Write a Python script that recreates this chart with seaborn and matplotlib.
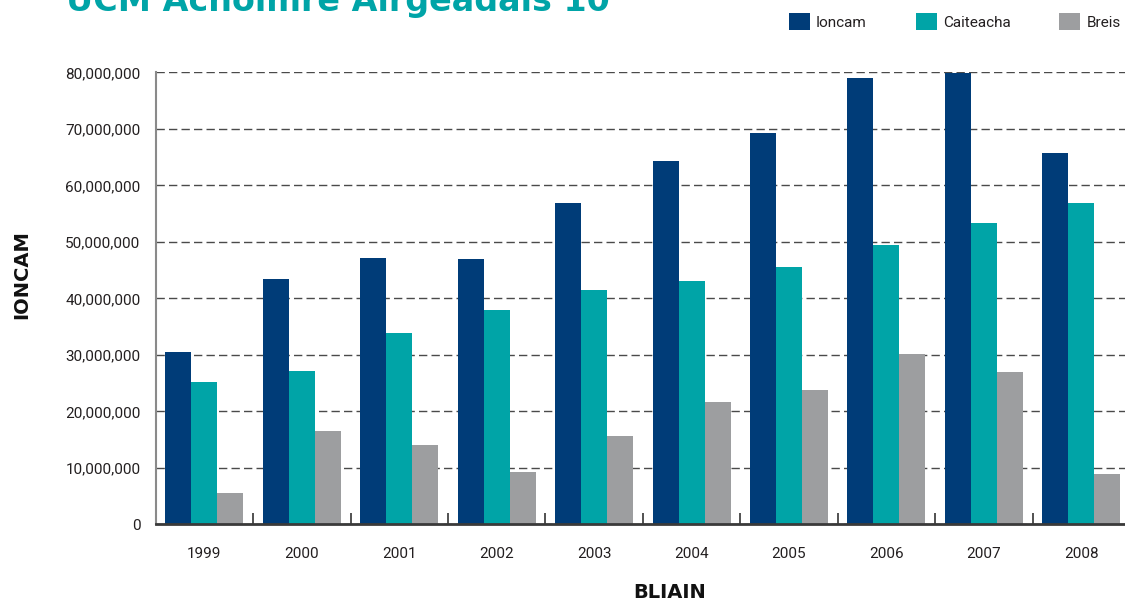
import numpy as np
import pandas as pd
import matplotlib
matplotlib.use("Agg")
import matplotlib.pyplot as plt
from matplotlib.ticker import FuncFormatter
import seaborn as sns

# ---- data ----
years = ["1999", "2000", "2001", "2002", "2003", "2004", "2005", "2006", "2007", "2008"]
ioncam = [30_500_000, 43_400_000, 47_100_000, 47_000_000, 56_900_000,
          64_300_000, 69_300_000, 79_000_000, 79_900_000, 65_700_000]
caiteacha = [25_200_000, 27_100_000, 33_900_000, 37_900_000, 41_500_000,
             43_100_000, 45_500_000, 49_400_000, 53_300_000, 56_900_000]
breis = [5_500_000, 16_500_000, 14_000_000, 9_300_000, 15_600_000,
         21_700_000, 23_800_000, 30_100_000, 27_000_000, 8_900_000]
series_names = ["Ioncam", "Caiteacha", "Breis"]
colors = ["#003c78", "#00a4a7", "#9d9ea0"]
title = "UCM Achoimre Airgeadais 10"
xlabel = "BLIAIN"
ylabel = "IONCAM"

df = pd.DataFrame({
    "year": years * 3,
    "value": ioncam + caiteacha + breis,
    "series": [series_names[0]] * len(years) + [series_names[1]] * len(years) + [series_names[2]] * len(years),
})

sns.set_theme(style="white")
plt.rcParams["font.family"] = ["Roboto", "DejaVu Sans"]

W, H = 1125, 604
fig = plt.figure(figsize=(W / 100, H / 100), dpi=100)
ax_left, ax_right = 155.7, 1130.0
ax_top, ax_bot = 72.3, 524.3
ax = fig.add_axes([ax_left / W, (H - ax_bot) / H, (ax_right - ax_left) / W, (ax_bot - ax_top) / H])

sns.barplot(data=df, x="year", y="value", hue="series", hue_order=series_names,
            palette=colors, saturation=1, width=0.8, linewidth=0, ax=ax)

ax.set_xlim(-0.5, len(years) - 0.5)
ax.set_ylim(0, 80_000_000)
ax.set_yticks(np.arange(0, 80_000_001, 10_000_000))
ax.yaxis.set_major_formatter(FuncFormatter(lambda v, p: f"{v:,.0f}"))

ax.set_axisbelow(True)
ax.yaxis.grid(True, linestyle=(0, (6, 3)), color="#4a4a4a", linewidth=1.0)
ax.xaxis.grid(False)

for s in ["top", "right"]:
    ax.spines[s].set_visible(False)
ax.spines["left"].set_color("#8a8a8a")
ax.spines["left"].set_linewidth(1.5)
ax.spines["bottom"].set_color("#3a3a3a")
ax.spines["bottom"].set_linewidth(2.0)

ax.set_xticks(np.arange(-0.5, len(years), 1.0), minor=True)
ax.tick_params(axis="x", which="major", length=0, pad=16, labelsize=11, labelcolor="#231f20")
ax.tick_params(axis="x", which="minor", direction="in", length=8, width=1.2, color="#333333", bottom=True)
ax.tick_params(axis="y", which="major", length=0, pad=11, labelsize=11, labelcolor="#231f20")

ax.set_xlabel(xlabel, fontsize=14, fontweight="bold", family="DejaVu Sans", color="#111111", va="center")
ax.set_ylabel(ylabel, fontsize=14, fontweight="bold", family="DejaVu Sans", color="#111111", va="center")
ax.xaxis.set_label_coords((670 - ax_left) / (ax_right - ax_left), (ax_bot - 593) / (ax_bot - ax_top))
ax.yaxis.set_label_coords((22 - ax_left) / (ax_right - ax_left), (ax_bot - 275) / (ax_bot - ax_top))

handles, labels = ax.get_legend_handles_labels()
if ax.get_legend() is not None:
    ax.get_legend().remove()
fig.legend(handles, labels, loc="upper left", bbox_to_anchor=(789 / W, 1 - 13 / H),
           ncol=3, frameon=False, fontsize=11, borderpad=0, borderaxespad=0,
           handlelength=1.37, handleheight=1.37, handletextpad=0.4, columnspacing=3.2,
           labelcolor="#231f20")

fig.text(66 / W, 1 - 11 / H, title, ha="left", va="baseline", fontsize=24,
         fontweight="bold", family="DejaVu Sans", color="#00a4a7")

fig.savefig("out.png", dpi=100)
